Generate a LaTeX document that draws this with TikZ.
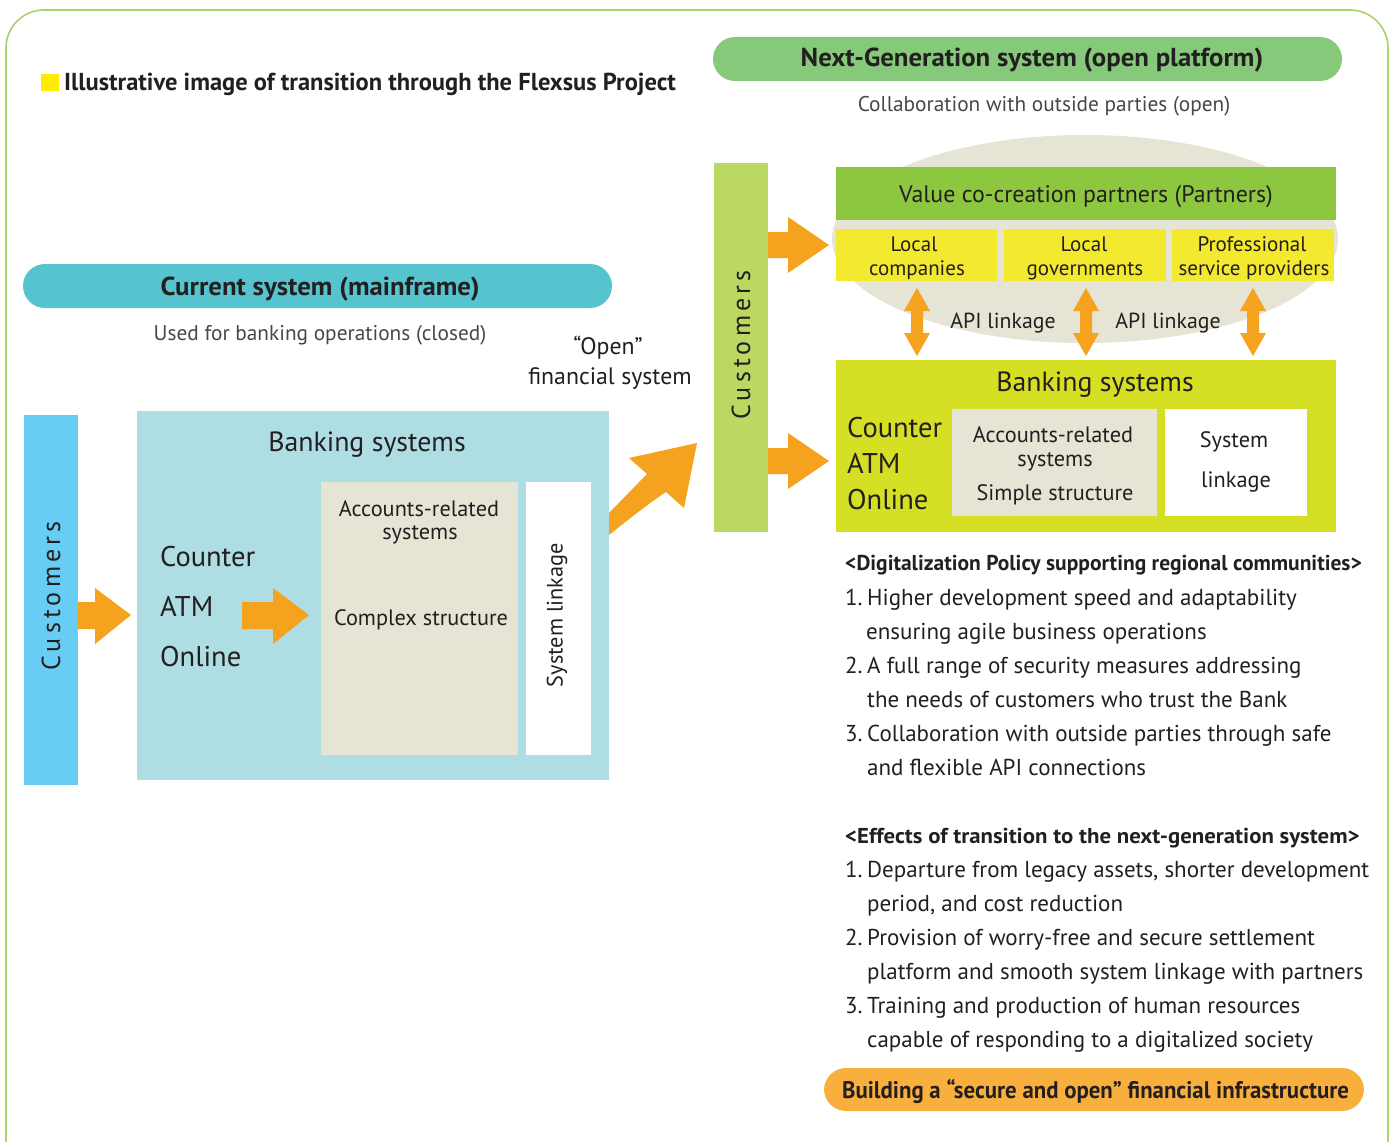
\documentclass[tikz,border=0pt]{standalone}
\usepackage{fontspec}
\setmainfont{PT Sans}
\newfontfamily\widefont[FakeStretch=1.03]{PT Sans}
\newfontfamily\narrowfont[FakeStretch=0.95]{PT Sans}
\newfontfamily\effectsfont[FakeStretch=1.06]{PT Sans}
\newfontfamily\spacedfont[LetterSpace=16]{PT Sans}
\usetikzlibrary{calc}

\definecolor{ink}{HTML}{231F20}
\definecolor{greyink}{HTML}{474747}
\definecolor{framegreen}{HTML}{A8D26A}
\definecolor{nextgen}{HTML}{86C97A}
\definecolor{current}{HTML}{56C4CF}
\definecolor{custleft}{HTML}{67CDF4}
\definecolor{bankleft}{HTML}{AEDDE3}
\definecolor{beige}{HTML}{E6E4D4}
\definecolor{custright}{HTML}{BBD862}
\definecolor{valuegreen}{HTML}{8DC63F}
\definecolor{partneryellow}{HTML}{F3E92F}
\definecolor{bankright}{HTML}{D5DF24}
\definecolor{arroworange}{HTML}{F5A21E}
\definecolor{pillorange}{HTML}{F9AF3E}
\definecolor{markyellow}{HTML}{FFED00}

\tikzset{
  box/.style={rectangle, draw=none, inner sep=0pt},
  pill/.style={rectangle, draw=none, inner sep=0pt, rounded corners=22pt},
  arrowfill/.style={fill=arroworange, draw=none},
  txt/.style={inner sep=0pt, text=ink},
  titlefont/.style={font=\bfseries\fontsize{24.5}{24.5}\selectfont},
  pillfont/.style={font=\widefont\bfseries\fontsize{26}{26}\selectfont},
  goalfont/.style={font=\narrowfont\bfseries\fontsize{24}{24}\selectfont},
  listfont/.style={font=\fontsize{23}{23}\selectfont},
  listhead/.style={font=\bfseries\fontsize{21.5}{21.5}\selectfont},
  bigfont/.style={font=\fontsize{28.5}{28.5}\selectfont},
  boxtitle/.style={font=\fontsize{27.8}{27.8}\selectfont},
  midfont/.style={font=\fontsize{22.3}{22.3}\selectfont},
  partfont/.style={font=\fontsize{21}{21}\selectfont},
  labfont/.style={font=\fontsize{23.8}{23.8}\selectfont},
  subfont/.style={font=\fontsize{21.3}{21.3}\selectfont, text=greyink},
  custfont/.style={font=\spacedfont\fontsize{26}{26}\selectfont},
}
\newcommand{\itemno}[1]{\makebox[22pt][l]{#1}}

\begin{document}
\begin{tikzpicture}[x=1pt, y=-1pt]
\useasboundingbox (0,0) rectangle (1391,1142);
\begin{scope}
\clip (0,0) rectangle (1391,1142);

% outer frame
\draw[framegreen, line width=1.6pt, rounded corners=38pt] (6,10) rectangle (1388,1180);

% heading of the whole figure
\fill[markyellow] (41,74) rectangle (59,91);
\node[txt, titlefont, anchor=base west] (title) at (64,91)
  {Illustrative image of transition through the Flexsus Project};

% ---------------- current system ----------------
\node[pill, fill=current, minimum width=589, minimum height=44] (curpill) at (317.5,286) {};
\node[txt, pillfont, anchor=base] (curpilltxt) at (320,295) {Current system (mainframe)};
\node[txt, subfont, anchor=base] (cursub) at (320,340) {Used for banking operations (closed)};

\node[box, fill=custleft, minimum width=54, minimum height=370] (custL) at (51,600) {};
\node[txt, custfont, rotate=90] (custLtxt) at (51,596) {Customers};

\node[box, fill=bankleft, minimum width=472, minimum height=369] (bankL) at (373,595.5) {};
\node[txt, boxtitle, anchor=base] (bankLtitle) at (367,451) {Banking systems};
\node[txt, bigfont, anchor=base west] (counterL) at (160,566) {Counter};
\node[txt, bigfont, anchor=base west] (atmL) at (160,616) {ATM};
\node[txt, bigfont, anchor=base west] (onlineL) at (160,666) {Online};

\node[box, fill=beige, minimum width=197, minimum height=273] (acctL) at (419.5,618.5) {};
\node[txt, midfont, anchor=base] (acctL1) at (419,516) {Accounts-related};
\node[txt, midfont, anchor=base] (acctL2) at (420,539) {systems};
\node[txt, midfont, anchor=base] (acctL3) at (421,625) {Complex structure};

\node[box, fill=white, minimum width=65, minimum height=273] (linkL) at (558.5,618.5) {};
\node[txt, midfont, rotate=90] (linkLtxt) at (557,615) {System linkage};

% block arrows of the current system
\fill[arrowfill] (78,602) -- (95,602) -- (95,588) -- (131,615) -- (95,644) -- (95,629) -- (78,629) -- cycle;
\fill[arrowfill] (242,602) -- (273,602) -- (273,588) -- (309,615) -- (273,644) -- (273,629) -- (242,629) -- cycle;

% transition arrow
\fill[arrowfill] (609,513) -- (647,474) -- (629,458) -- (697,443) -- (684,508) -- (666,492)
  .. controls (645,506) and (628,520) .. (609,535) -- cycle;
\node[txt, labfont, anchor=base] (open1) at (608,354) {“Open”};
\node[txt, labfont, anchor=base] (open2) at (610,384) {financial system};

% ---------------- next-generation system ----------------
\node[pill, fill=nextgen, minimum width=629, minimum height=44] (ngpill) at (1027.5,59) {};
\node[txt, pillfont, anchor=base] (ngpilltxt) at (1032,67) {Next-Generation system (open platform)};
\node[txt, subfont, anchor=base] (ngsub) at (1044,112) {Collaboration with outside parties (open)};

\fill[beige] (1085,239) ellipse [x radius=253, y radius=104];

\node[box, fill=custright, minimum width=54, minimum height=369] (custR) at (741,347.5) {};
\node[txt, custfont, rotate=90] (custRtxt) at (741,345) {Customers};

\node[box, fill=valuegreen, minimum width=500, minimum height=53] (value) at (1086,193.5) {};
\node[txt, font=\fontsize{23.9}{23.9}\selectfont, anchor=base] (valuetxt) at (1086,202) {Value co-creation partners (Partners)};

\node[box, fill=partneryellow, minimum width=161, minimum height=52] (p1) at (916.5,255) {};
\node[box, fill=partneryellow, minimum width=162, minimum height=52] (p2) at (1085,255) {};
\node[box, fill=partneryellow, minimum width=162, minimum height=52] (p3) at (1253,255) {};
\node[txt, partfont, anchor=base] (p1a) at (914,251) {Local};
\node[txt, partfont, anchor=base] (p1b) at (917,275) {companies};
\node[txt, partfont, anchor=base] (p2a) at (1084,251) {Local};
\node[txt, partfont, anchor=base] (p2b) at (1085,275) {governments};
\node[txt, partfont, anchor=base] (p3a) at (1252,251) {Professional};
\node[txt, partfont, anchor=base] (p3b) at (1254,275) {service providers};

\node[box, fill=bankright, minimum width=500, minimum height=172] (bankR) at (1086,446) {};
\node[txt, boxtitle, anchor=base] (bankRtitle) at (1095,391) {Banking systems};
\node[txt, bigfont, anchor=base west] (counterR) at (847,437) {Counter};
\node[txt, bigfont, anchor=base west] (atmR) at (847,473) {ATM};
\node[txt, bigfont, anchor=base west] (onlineR) at (847,509) {Online};

\node[box, fill=beige, minimum width=205, minimum height=107] (acctR) at (1054.5,462.5) {};
\node[txt, midfont, anchor=base] (acctR1) at (1053,442) {Accounts-related};
\node[txt, midfont, anchor=base] (acctR2) at (1055,466) {systems};
\node[txt, midfont, anchor=base] (acctR3) at (1055,500) {Simple structure};

\node[box, fill=white, minimum width=142, minimum height=107] (linkR) at (1236,462.5) {};
\node[txt, midfont, anchor=base] (linkR1) at (1234,447) {System};
\node[txt, midfont, anchor=base] (linkR2) at (1236,487) {linkage};

% API linkage double arrows between partners and banking systems
\foreach \ax in {917,1086,1253}{
  \fill[arrowfill] (\ax,288) -- (\ax+13,311) -- (\ax+6,311) -- (\ax+6,333) -- (\ax+13,333) -- (\ax,356)
    -- (\ax-13,333) -- (\ax-6,333) -- (\ax-6,311) -- (\ax-13,311) -- cycle;
}
\node[txt, font=\fontsize{21.8}{21.8}\selectfont, anchor=base] (api1) at (1003,328) {API linkage};
\node[txt, font=\fontsize{21.8}{21.8}\selectfont, anchor=base] (api2) at (1168,328) {API linkage};

% block arrows from customers
\fill[arrowfill] (768,232) -- (788,232) -- (788,217) -- (829,245) -- (788,273) -- (788,258) -- (768,258) -- cycle;
\fill[arrowfill] (768,448) -- (788,448) -- (788,433) -- (829,461) -- (788,489) -- (788,474) -- (768,474) -- cycle;

% ---------------- policy and effects ----------------
\node[txt, listhead, anchor=base west] (polhead) at (845,570)
  {<Digitalization Policy supporting regional communities>};
\node[txt, listfont, anchor=base west] (pol1a) at (845,605) {\itemno{1.}Higher development speed and adaptability};
\node[txt, listfont, anchor=base west] (pol1b) at (866,639) {ensuring agile business operations};
\node[txt, listfont, anchor=base west] (pol2a) at (845,673) {\itemno{2.}A full range of security measures addressing};
\node[txt, listfont, anchor=base west] (pol2b) at (867,707) {the needs of customers who trust the Bank};
\node[txt, listfont, anchor=base west] (pol3a) at (845,741) {\itemno{3.}Collaboration with outside parties through safe};
\node[txt, listfont, anchor=base west] (pol3b) at (867,775) {and flexible API connections};

\node[txt, listhead, font=\effectsfont\bfseries\fontsize{21.5}{21.5}\selectfont, anchor=base west] (effhead) at (845,843)
  {<Effects of transition to the next-generation system>};
\node[txt, listfont, anchor=base west] (eff1a) at (845,877) {\itemno{1.}Departure from legacy assets, shorter development};
\node[txt, listfont, anchor=base west] (eff1b) at (867,911) {period, and cost reduction};
\node[txt, listfont, anchor=base west] (eff2a) at (845,945) {\itemno{2.}Provision of worry-free and secure settlement};
\node[txt, listfont, anchor=base west] (eff2b) at (867,979) {platform and smooth system linkage with partners};
\node[txt, listfont, anchor=base west] (eff3a) at (845,1013) {\itemno{3.}Training and production of human resources};
\node[txt, listfont, anchor=base west] (eff3b) at (867,1047) {capable of responding to a digitalized society};

\node[pill, fill=pillorange, minimum width=540, minimum height=43] (goal) at (1094,1089.5) {};
\node[txt, goalfont, anchor=base] (goaltxt) at (1095.5,1098) {Building a “secure and open” financial infrastructure};
\end{scope}
\end{tikzpicture}
\end{document}
